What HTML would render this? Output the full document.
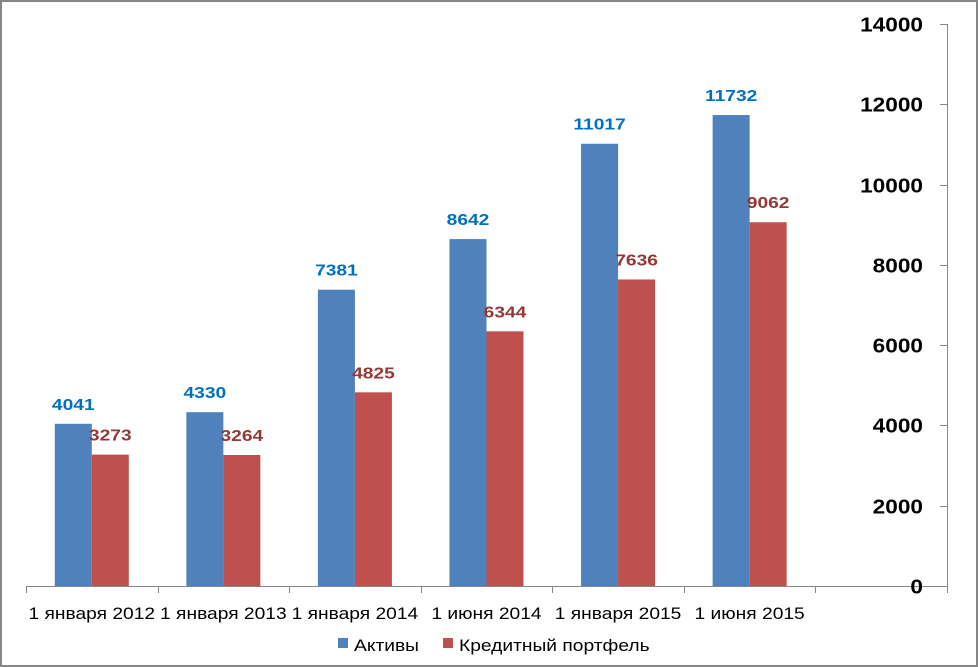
<!DOCTYPE html>
<html><head><meta charset="utf-8"><style>
body{margin:0;background:#fff}
svg{display:block;font-family:"Liberation Sans","DejaVu Sans",sans-serif}
</style></head><body>
<svg width="978" height="667" id="c">
<rect x="1" y="1" width="976" height="665" fill="#fff" stroke="#868686" stroke-width="2"/>
<g id="plot"></g>
<g>
<rect x="338" y="638" width="10" height="10" fill="#4F81BD"/>
<text class="w" x="354" y="651" font-size="17" fill="#000">Активы</text>
<rect x="443" y="638" width="10" height="10" fill="#C0504D"/>
<text class="w" x="459" y="651" font-size="17" fill="#000">Кредитный портфель</text>
</g>
</svg>
<script>
const categories=["1 января 2012","1 января 2013","1 января 2014","1 июня 2014","1 января 2015","1 июня 2015"];
const assets=[4041,4330,7381,8642,11017,11732];
const loans=[3273,3264,4825,6344,7636,9062];
const yTicks=[0,2000,4000,6000,8000,10000,12000,14000];
const NS="http://www.w3.org/2000/svg";
const g=document.getElementById('plot');
const x0=26,x1=947,slots=7,slotW=(x1-x0)/slots,y0=586,yTop=24,yMax=14000;
const yS=v=>y0-(v/yMax)*(y0-yTop);
function el(t,a,txt){const e=document.createElementNS(NS,t);for(const k in a)e.setAttribute(k,a[k]);if(txt!=null)e.textContent=txt;g.appendChild(e);return e;}
let e=el('line',{x1:x0,y1:y0+0.5,x2:x1,y2:y0+0.5,stroke:'#868686'});


e=el('line',{x1:x1+0.5,y1:yTop,x2:x1+0.5,y2:y0,stroke:'#868686'});


for(let i=0;i<=slots;i++){const x=Math.round(x0+i*slotW)+0.5;
e=el('line',{x1:x,y1:y0,x2:x,y2:y0+7,stroke:'#868686'});

}
yTicks.forEach(v=>{const y=Math.round(yS(v))+0.5;
e=el('line',{x1:x1-7,y1:y,x2:x1,y2:y,stroke:'#868686'});


e=el('text',{x:923,y:y+7,'text-anchor':'end','font-size':'20','font-weight':'bold',fill:'#000',class:'w'},v);

});
const bw=37;
categories.forEach((c,i)=>{const cx=x0+i*slotW+slotW/2;
const ya=yS(assets[i]),yl=yS(loans[i]);
e=el('rect',{x:cx-bw,y:ya,width:bw,height:y0-ya,fill:'#4F81BD'});


e=el('rect',{x:cx,y:yl,width:bw,height:y0-yl,fill:'#C0504D'});


e=el('text',{x:cx-bw/2,y:ya-14,'text-anchor':'middle','font-size':'16','font-weight':'bold',fill:'#0070C0',class:'w2'},assets[i]);


e=el('text',{x:cx+bw/2,y:yl-14,'text-anchor':'middle','font-size':'16','font-weight':'bold',fill:'#953735',class:'w2'},loans[i]);


e=el('text',{x:cx,y:619,'text-anchor':'middle','font-size':'17',fill:'#000',class:'w'},c);


});
document.querySelectorAll('text.w').forEach(t=>{const l=t.getComputedTextLength();t.setAttribute('textLength',(l*1.13).toFixed(1));t.setAttribute('lengthAdjust','spacingAndGlyphs');});
document.querySelectorAll('text.w2').forEach(t=>{const l=t.getComputedTextLength();t.setAttribute('textLength',(l*1.2).toFixed(1));t.setAttribute('lengthAdjust','spacingAndGlyphs');});
</script>
</body></html>
